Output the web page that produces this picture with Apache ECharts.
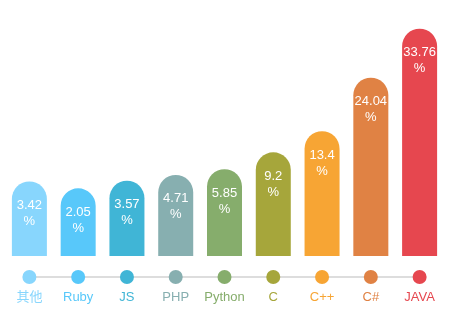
<!DOCTYPE html>
<html>
<head>
<meta charset="utf-8">
<script src="https://cdn.jsdelivr.net/npm/echarts@6/dist/echarts.min.js"></script>
<style>
  html, body { margin: 0; padding: 0; background: #ffffff; }
  #chart { width: 452px; height: 330px; }
</style>
</head>
<body>
<div id="chart"></div>
<script>
// Programming language share (%)
const categories = ['其他', 'Ruby', 'JS', 'PHP', 'Python', 'C', 'C++', 'C#', 'JAVA'];
const shares = [3.42, 2.05, 3.57, 4.71, 5.85, 9.2, 13.4, 24.04, 33.76];
const colors = ['#88d6fd', '#58c8fa', '#40b5d6', '#87afb0', '#86ad6c', '#a6a63b', '#f7a534', '#e08244', '#e6474f'];

const FONT = "'Liberation Sans', 'Noto Sans CJK SC', sans-serif";
const axisMin = -11.4;
const axisMax = 34;
const barW = 35;

const chart = echarts.init(document.getElementById('chart'), null, { renderer: 'canvas' });

chart.setOption({
  animation: false,
  backgroundColor: '#ffffff',
  grid: [
    { left: 5, right: 8, top: 27.5, bottom: 74 },
    { left: 5, right: 8, top: 270, height: 14 }
  ],
  xAxis: [
    { type: 'category', gridIndex: 0, data: categories, show: false },
    {
      type: 'category', gridIndex: 1,
      data: categories.map((name, i) => ({ value: name, textStyle: { color: colors[i] } })),
      axisLine: { show: false }, axisTick: { show: false }, splitLine: { show: false },
      axisLabel: {
        interval: 0,
        margin: 7,
        fontSize: 13,
        fontFamily: FONT
      }
    }
  ],
  yAxis: [
    { type: 'value', gridIndex: 0, min: axisMin, max: axisMax, show: false },
    { type: 'value', gridIndex: 1, min: -1, max: 1, show: false }
  ],
  series: [
    {
      // rounded-top bars rising from the bottom of the value axis
      type: 'custom',
      xAxisIndex: 0,
      yAxisIndex: 0,
      data: shares.map((v, i) => [i, v]),
      renderItem: (params, api) => {
        const i = api.value(0);
        const v = api.value(1);
        const top = api.coord([i, v]);
        const base = api.coord([i, axisMin]);
        return {
          type: 'group',
          children: [
            {
              type: 'rect',
              shape: { x: top[0] - barW / 2, y: top[1], width: barW, height: base[1] - top[1], r: [barW / 2, barW / 2, 0, 0] },
              style: { fill: colors[i] }
            },
            {
              type: 'text',
              style: {
                text: v + '\n%',
                x: top[0],
                y: top[1] + 16,
                align: 'center',
                verticalAlign: 'top',
                fill: '#ffffff',
                font: '13px ' + FONT,
                lineHeight: 16
              }
            }
          ]
        };
      }
    },
    {
      // marker row under the bars
      type: 'line',
      xAxisIndex: 1,
      yAxisIndex: 1,
      data: categories.map((name, i) => ({ value: 0, itemStyle: { color: colors[i] } })),
      symbol: 'circle',
      symbolSize: 14,
      showAllSymbol: true,
      lineStyle: { color: '#dddddd', width: 2 },
      itemStyle: { borderWidth: 0 },
      emphasis: { disabled: true },
      silent: true
    }
  ]
});
</script>
</body>
</html>
